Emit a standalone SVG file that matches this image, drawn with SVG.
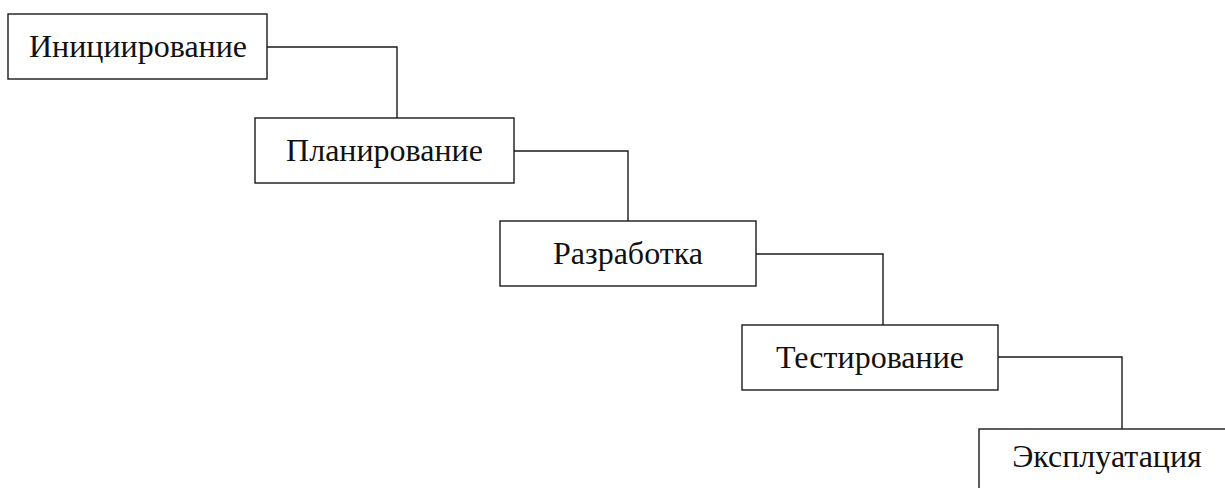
<svg xmlns="http://www.w3.org/2000/svg" width="1225" height="488" viewBox="0 0 1225 488">
<style>
.box{fill:#fff;stroke:#1a1a1a;stroke-width:1.4}
.lbl{font-family:"Liberation Serif","Times New Roman",serif;font-size:32px;fill:#111;text-anchor:middle}
.conn{fill:none;stroke:#1a1a1a;stroke-width:1.4}
</style>
<rect width="1225" height="488" fill="#fff"/>
<g id="connectors">
<polyline class="conn" points="267,47 397,47 397,118"/>
<polyline class="conn" points="514,151 628,151 628,221"/>
<polyline class="conn" points="756,254 883,254 883,325"/>
<polyline class="conn" points="998,357 1122,357 1122,429"/>
</g>
<g id="n1"><rect class="box" x="8" y="14" width="259" height="65"/><text class="lbl" x="138" y="57">Инициирование</text></g>
<g id="n2"><rect class="box" x="255" y="118" width="259" height="65"/><text class="lbl" x="384.5" y="161">Планирование</text></g>
<g id="n3"><rect class="box" x="500" y="221" width="256" height="65"/><text class="lbl" x="628" y="264">Разработка</text></g>
<g id="n4"><rect class="box" x="742" y="325" width="256" height="65"/><text class="lbl" x="870" y="368">Тестирование</text></g>
<g id="n5"><rect class="box" x="979" y="429" width="256" height="70"/><text class="lbl" x="1107" y="467">Эксплуатация</text></g>
</svg>
